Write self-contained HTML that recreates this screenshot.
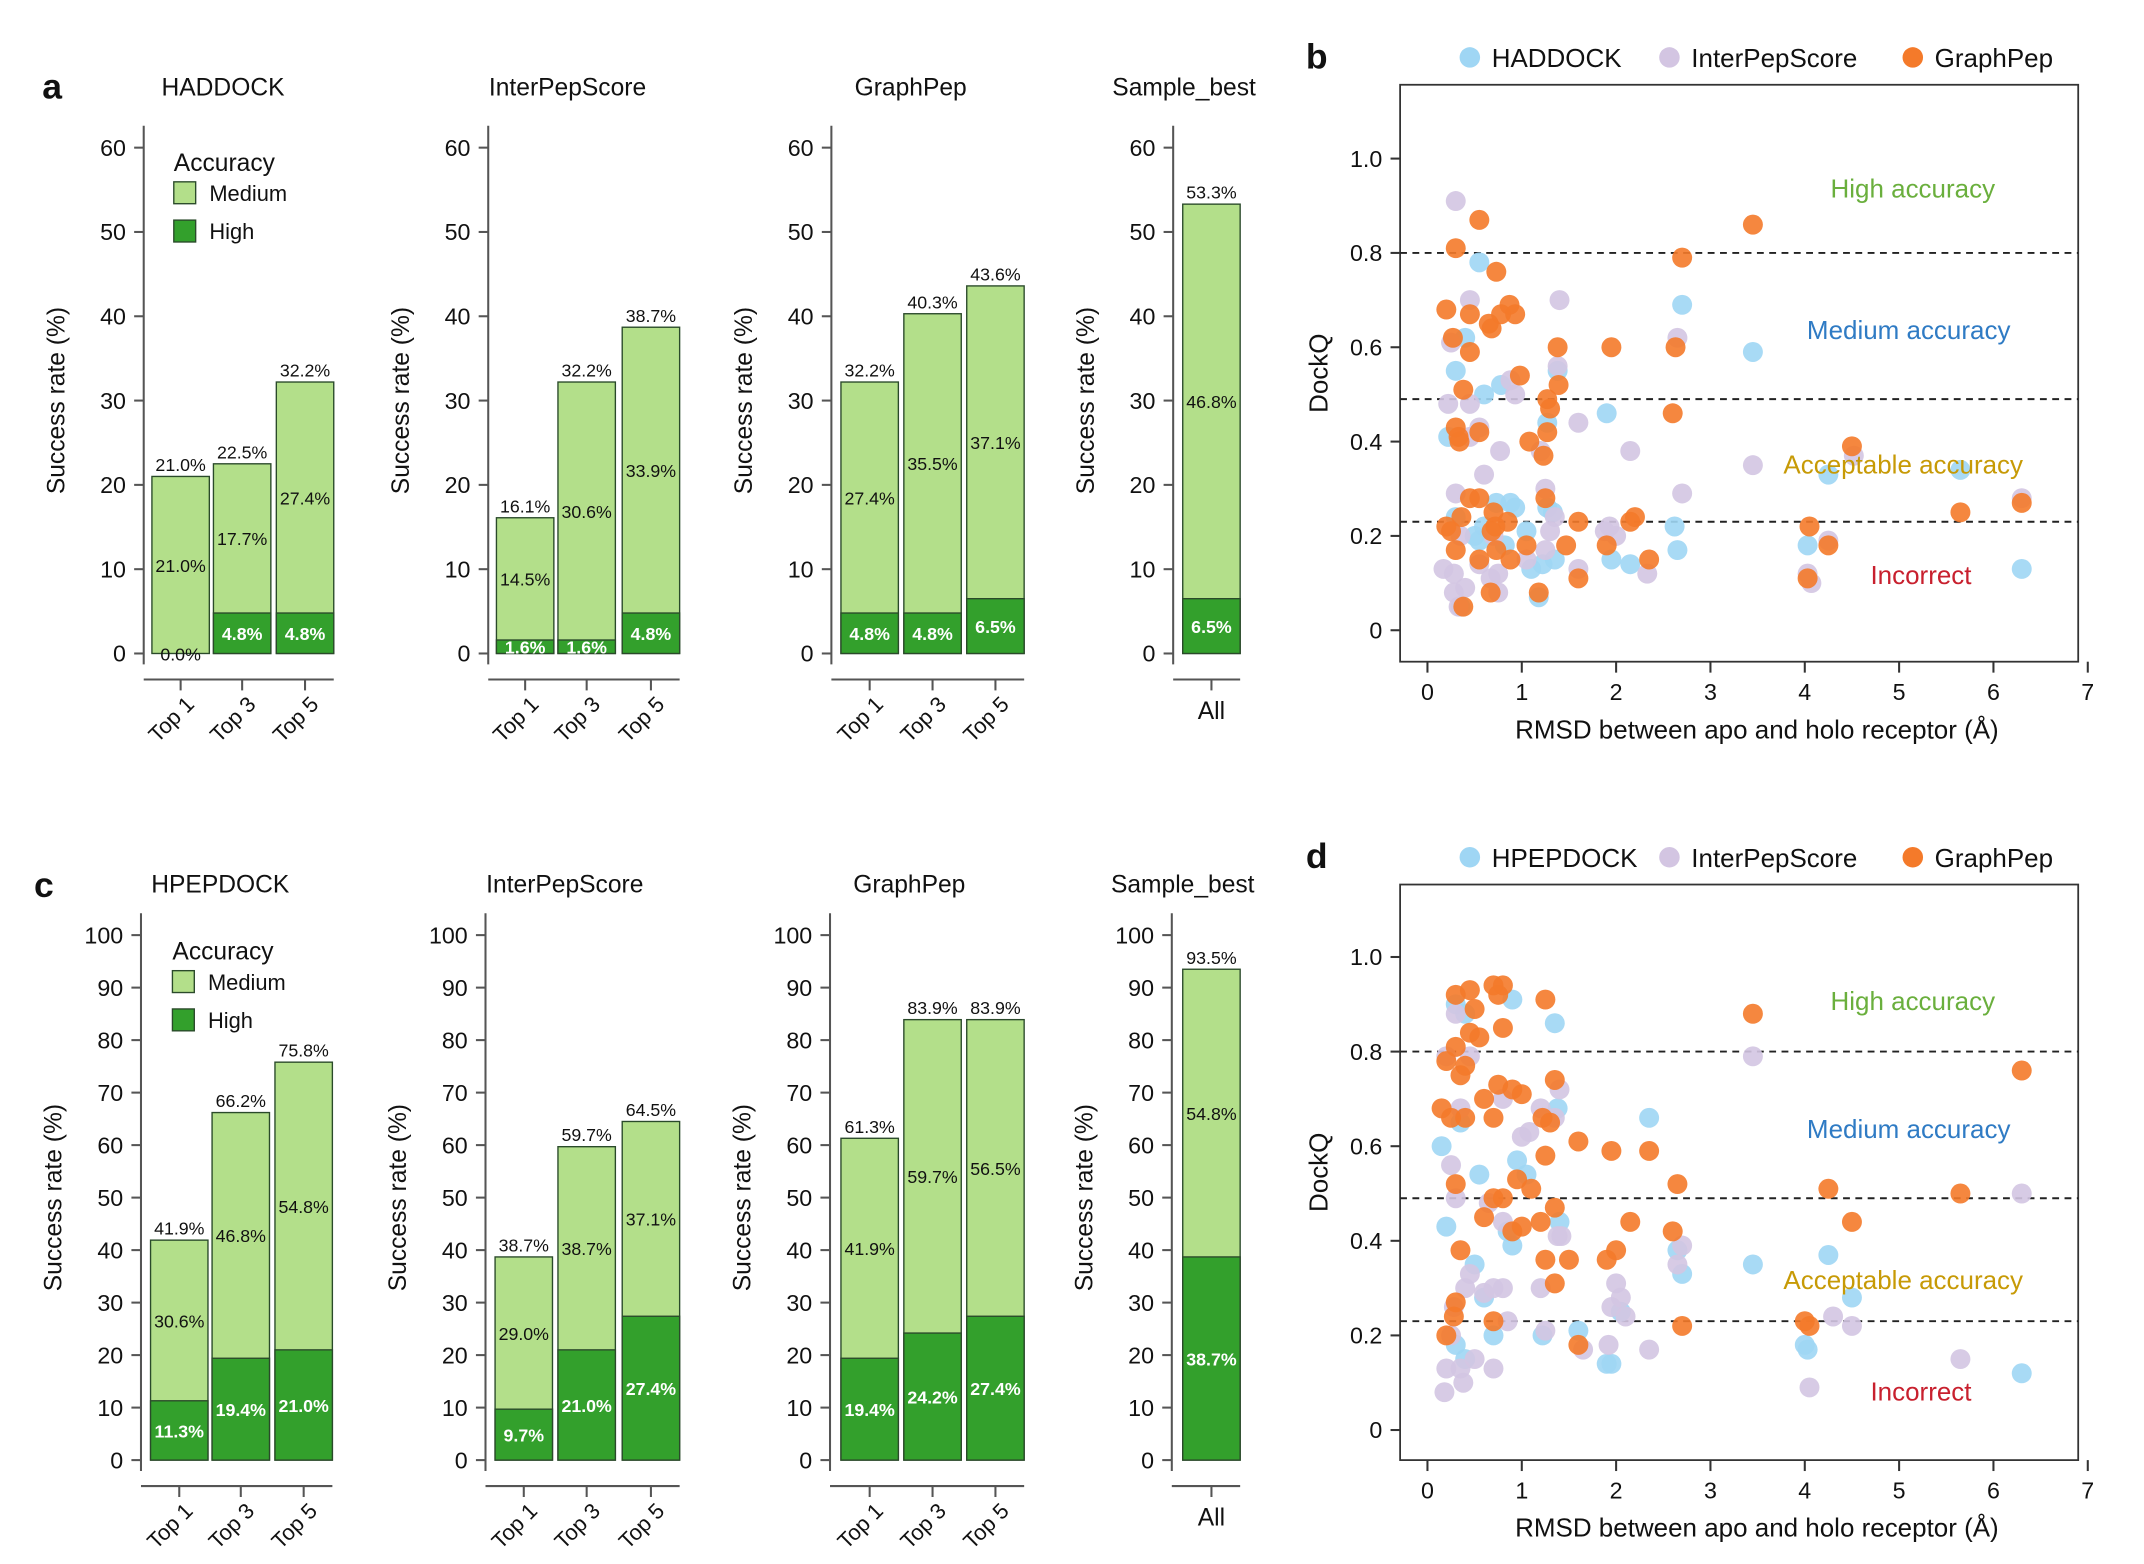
<!DOCTYPE html>
<html><head><meta charset="utf-8">
<style>
html,body{margin:0;padding:0;background:#fff;}
svg{display:block;font-family:"Liberation Sans",sans-serif;}
</style></head>
<body>
<svg id="s" xmlns="http://www.w3.org/2000/svg" width="2144" height="1564" viewBox="0 0 1568 1144"></svg>
<script>
const S=document.getElementById('s');let h='';
const LG='#b3df8a',DG='#33a02c',AX='#555';
function T(x,y,t,o){o=o||{};h+=`<text x="${x}" y="${y}" font-size="${o.fs||16}" fill="${o.c||'#111'}" text-anchor="${o.a||'middle'}" ${o.w?'font-weight="bold"':''} ${o.tr?`transform="${o.tr}"`:''}>${t}</text>`;}
function L(x1,y1,x2,y2,c,w,d){h+=`<line x1="${x1}" y1="${y1}" x2="${x2}" y2="${y2}" stroke="${c||AX}" stroke-width="${w||1.5}" ${d?`stroke-dasharray="${d}"`:''}/>`;}
function R(x,y,w,hh,f){h+=`<rect x="${x}" y="${y}" width="${w}" height="${hh}" fill="${f}" stroke="#2a4a2a" stroke-width="1"/>`;}
function barPanel(ax,y0,yTop,max,step,title,ttlY,bars,labels,xs,legend){
  const sc=(y0-yTop)/max;
  L(ax,yTop-16,ax,y0+8);
  for(let v=0;v<=max;v+=step){const y=y0-v*sc;L(ax-7,y,ax,y);T(ax-13,y+6,v,{a:'end',fs:17});}
  T(ax+58+(bars.length===1?-50:0),ttlY,title,{fs:18});
  T(ax-58,(y0+yTop)/2,'Success rate (%)',{fs:18,tr:`rotate(-90 ${ax-58} ${(y0+yTop)/2})`});
  const xl=y0+19;
  const lastX=xs[xs.length-1]+42;
  L(ax,xl,lastX,xl);
  bars.forEach((b,i)=>{const x=xs[i],[tot,hi,med]=b;
    R(x,y0-tot*sc,42,tot*sc,LG);
    if(hi>0)R(x,y0-hi*sc,42,hi*sc,DG);
    L(x+21,xl,x+21,xl+8);
    T(x+21,y0-tot*sc-4,tot.toFixed(1)+'%',{fs:13});
    T(x+21,y0-(hi+med/2)*sc+5,med.toFixed(1)+'%',{fs:13});
    if(hi>0)T(x+21,y0-hi/2*sc+5,hi.toFixed(1)+'%',{fs:13,c:'#fff',w:1});
    else T(x+21,y0+5,'0.0%',{fs:13});
    if(bars.length===1)T(x+21,xl+29,'All',{fs:18});
    else {const lx=x+18,ly=xl+33;T(lx,ly,labels[i],{fs:16,tr:`rotate(-45 ${lx} ${ly})`});}
  });
  if(legend){const [lx,ly]=legend;T(lx,ly,'Accuracy',{a:'start',fs:18});
    R(lx,ly+8,16,16,LG);T(lx+26,ly+22,'Medium',{a:'start',fs:16});
    R(lx,ly+36,16,16,DG);T(lx+26,ly+50,'High',{a:'start',fs:16});}
}
const tl=['Top 1','Top 3','Top 5'];
T(38,72,'a',{fs:26,w:1});
barPanel(105,478,108,60,10,'HADDOCK',70,[[21.0,0,21.0],[22.5,4.8,17.7],[32.2,4.8,27.4]],tl,[111,156,202],[127,125]);
barPanel(357,478,108,60,10,'InterPepScore',70,[[16.1,1.6,14.5],[32.2,1.6,30.6],[38.7,4.8,33.9]],tl,[363,408,455]);
barPanel(608,478,108,60,10,'GraphPep',70,[[32.2,4.8,27.4],[40.3,4.8,35.5],[43.6,6.5,37.1]],tl,[615,661,707]);
barPanel(858,478,108,60,10,'Sample_best',70,[[53.3,6.5,46.8]],tl,[865]);
T(32,656,'c',{fs:26,w:1});
barPanel(103,1068,684,100,10,'HPEPDOCK',653,[[41.9,11.3,30.6],[66.2,19.4,46.8],[75.8,21.0,54.8]],tl,[110,155,201],[126,702]);
barPanel(355,1068,684,100,10,'InterPepScore',653,[[38.7,9.7,29.0],[59.7,21.0,38.7],[64.5,27.4,37.1]],tl,[362,408,455]);
barPanel(607,1068,684,100,10,'GraphPep',653,[[61.3,19.4,41.9],[83.9,24.2,59.7],[83.9,27.4,56.5]],tl,[615,661,707]);
barPanel(857,1068,684,100,10,'Sample_best',653,[[93.5,38.7,54.8]],tl,[865]);
const CB='#9fd6f4',CP='#d3c5e2',CO='#f47a2a';
function scatter(lbl,ly,fy1,fy2,y0,y1,names,pts){
  const X=v=>1044+v*69, Y=v=>y0-(v)*(y0-y1);
  T(963,ly+8,lbl,{fs:26,w:1});
  const lg=[[1075,names[0],CB],[1221,'InterPepScore',CP],[1399,'GraphPep',CO]];
  lg.forEach(([x,n,c])=>{h+=`<circle cx="${x}" cy="${ly}" r="7.5" fill="${c}"/>`;T(x+16,ly+7,n,{a:'start',fs:19});});
  h+=`<rect x="1024" y="${fy1}" width="496" height="${fy2-fy1}" fill="none" stroke="#333" stroke-width="1.3"/>`;
  [0,0.2,0.4,0.6,0.8,1.0].forEach(v=>{L(1017,Y(v),1024,Y(v),'#333');T(1011,Y(v)+6,v===0?'0':v.toFixed(1),{a:'end',fs:17});});
  for(let i=0;i<=7;i++){L(X(i),fy2,X(i),fy2+8,'#333');T(X(i),fy2+28,i,{fs:17});}
  T(1285,fy2+56,'RMSD between apo and holo receptor (Å)',{fs:19});
  T(971,(fy1+fy2)/2,'DockQ',{fs:19,tr:`rotate(-90 971 ${(fy1+fy2)/2})`});
  [0.8,0.49,0.23].forEach(v=>L(1024,Y(v),1520,Y(v),'#222',1.4,'5,4'));
  const col=[CB,CP,CO];
  pts.forEach((arr,k)=>arr.forEach(([a,b])=>{h+=`<circle cx="${X(a)}" cy="${Y(b)}" r="7.3" fill="${col[k]}" fill-opacity="0.9"/>`;}));
  return Y;
}
const bB=[[0.55,0.78],[2.7,0.69],[0.4,0.62],[0.3,0.55],[0.6,0.5],[0.78,0.52],[1.9,0.46],[0.22,0.41],[1.27,0.44],[3.45,0.59],[1.38,0.55],[4.25,0.33],[5.65,0.34],[0.3,0.24],[0.73,0.27],[0.88,0.27],[0.93,0.26],[0.5,0.2],[0.55,0.19],[1.05,0.21],[1.27,0.26],[1.33,0.25],[1.1,0.13],[1.22,0.14],[1.35,0.15],[1.95,0.15],[2.15,0.14],[2.62,0.22],[2.65,0.17],[4.03,0.18],[6.3,0.13],[1.18,0.07],[0.35,0.05],[0.82,0.18],[0.6,0.22]];
const bP=[[0.3,0.91],[0.45,0.7],[1.4,0.7],[0.25,0.61],[0.88,0.53],[0.93,0.5],[0.45,0.48],[0.22,0.48],[1.6,0.44],[0.55,0.43],[0.45,0.41],[0.77,0.38],[2.15,0.38],[1.2,0.38],[0.6,0.33],[3.45,0.35],[2.65,0.62],[1.38,0.56],[0.3,0.29],[1.25,0.3],[2.7,0.29],[1.35,0.24],[0.35,0.2],[0.7,0.2],[1.3,0.21],[1.93,0.22],[1.88,0.21],[2.0,0.2],[0.17,0.13],[0.28,0.12],[0.55,0.14],[0.67,0.11],[0.75,0.12],[1.05,0.15],[1.25,0.17],[1.6,0.13],[2.33,0.12],[0.28,0.08],[0.4,0.09],[0.75,0.08],[0.33,0.05],[4.07,0.1],[4.52,0.37],[6.3,0.28],[4.25,0.19],[4.03,0.12]];
const bO=[[0.3,0.81],[0.55,0.87],[0.73,0.76],[0.2,0.68],[0.45,0.67],[0.65,0.65],[0.68,0.64],[0.78,0.67],[0.87,0.69],[0.93,0.67],[0.27,0.62],[0.45,0.59],[0.38,0.51],[0.98,0.54],[1.38,0.6],[1.39,0.52],[1.27,0.49],[1.3,0.47],[1.95,0.6],[2.63,0.6],[2.7,0.79],[3.45,0.86],[2.6,0.46],[0.3,0.43],[0.33,0.41],[0.34,0.4],[0.55,0.42],[1.08,0.4],[1.23,0.37],[1.27,0.42],[4.5,0.39],[0.45,0.28],[0.55,0.28],[0.25,0.21],[0.2,0.22],[0.36,0.24],[0.7,0.25],[0.72,0.22],[0.85,0.23],[1.25,0.28],[1.6,0.23],[2.15,0.23],[2.2,0.24],[1.9,0.18],[1.47,0.18],[1.05,0.18],[0.3,0.17],[0.55,0.15],[0.73,0.17],[0.88,0.15],[0.68,0.21],[2.35,0.15],[1.6,0.11],[0.67,0.08],[1.18,0.08],[0.38,0.05],[4.05,0.22],[4.25,0.18],[4.03,0.11],[5.65,0.25],[6.3,0.27]];
let Y1=scatter('b',42,62,484,461,116,['HADDOCK'],[bB,bP,bO]);
T(1399,Y1(0.935)+6,'High accuracy',{fs:19,c:'#6aaf3d'});
T(1396,Y1(0.635)+6,'Medium accuracy',{fs:19,c:'#2f7bc4'});
T(1392,Y1(0.35)+6,'Acceptable accuracy',{fs:19,c:'#c79a06'});
T(1405,Y1(0.115)+6,'Incorrect',{fs:19,c:'#c8202e'});
const dB=[[0.3,0.9],[0.4,0.88],[0.9,0.91],[1.35,0.86],[0.35,0.65],[0.15,0.6],[0.55,0.54],[0.95,0.57],[1.05,0.54],[1.38,0.68],[2.35,0.66],[0.2,0.43],[0.5,0.35],[0.9,0.39],[0.85,0.42],[2.65,0.38],[2.7,0.33],[3.45,0.35],[4.25,0.37],[4.5,0.28],[0.3,0.18],[0.4,0.15],[0.7,0.2],[1.22,0.2],[1.6,0.21],[1.95,0.14],[1.9,0.14],[2.05,0.25],[4.0,0.18],[4.03,0.17],[6.3,0.12],[1.4,0.44],[0.6,0.28]];
const dP=[[0.3,0.88],[0.35,0.68],[0.2,0.79],[0.45,0.79],[0.8,0.7],[1.0,0.62],[1.08,0.63],[1.2,0.68],[1.35,0.66],[1.4,0.72],[0.25,0.56],[0.3,0.49],[0.65,0.48],[0.8,0.44],[1.38,0.41],[1.42,0.41],[2.7,0.39],[2.65,0.35],[0.4,0.3],[0.6,0.29],[0.7,0.3],[0.8,0.3],[0.45,0.33],[1.2,0.3],[2.0,0.31],[2.05,0.28],[1.95,0.26],[2.1,0.24],[0.28,0.26],[0.25,0.2],[0.85,0.23],[1.25,0.21],[0.35,0.13],[0.5,0.15],[0.2,0.13],[0.7,0.13],[1.65,0.17],[1.92,0.18],[2.35,0.17],[0.18,0.08],[0.38,0.1],[3.45,0.79],[4.05,0.09],[4.5,0.22],[4.3,0.24],[5.65,0.15],[6.3,0.5]];
const dO=[[0.3,0.92],[0.45,0.93],[0.7,0.94],[0.8,0.94],[0.75,0.92],[1.25,0.91],[0.3,0.81],[0.4,0.77],[0.5,0.89],[0.8,0.85],[0.2,0.78],[0.35,0.75],[0.45,0.84],[0.55,0.83],[0.75,0.73],[0.9,0.72],[1.0,0.71],[1.35,0.74],[0.15,0.68],[0.25,0.66],[0.4,0.66],[0.6,0.7],[0.7,0.66],[1.22,0.66],[1.3,0.65],[1.6,0.61],[1.95,0.59],[2.35,0.59],[1.25,0.58],[0.3,0.52],[0.7,0.49],[0.8,0.49],[0.95,0.53],[1.1,0.51],[1.35,0.47],[2.65,0.52],[3.45,0.88],[4.25,0.51],[5.65,0.5],[6.3,0.76],[4.5,0.44],[0.35,0.38],[0.6,0.45],[0.9,0.42],[1.0,0.43],[1.2,0.44],[1.25,0.36],[1.35,0.31],[1.5,0.36],[2.0,0.38],[2.15,0.44],[1.9,0.36],[2.6,0.42],[2.7,0.22],[0.28,0.24],[0.2,0.2],[0.3,0.27],[0.7,0.23],[1.6,0.18],[4.0,0.23],[4.05,0.22]];
let Y2=scatter('d',627,647,1068,1046,700,['HPEPDOCK'],[dB,dP,dO]);
T(1399,Y2(0.905)+6,'High accuracy',{fs:19,c:'#6aaf3d'});
T(1396,Y2(0.635)+6,'Medium accuracy',{fs:19,c:'#2f7bc4'});
T(1392,Y2(0.315)+6,'Acceptable accuracy',{fs:19,c:'#c79a06'});
T(1405,Y2(0.08)+6,'Incorrect',{fs:19,c:'#c8202e'});
S.innerHTML=h;
</script>
</body></html>
